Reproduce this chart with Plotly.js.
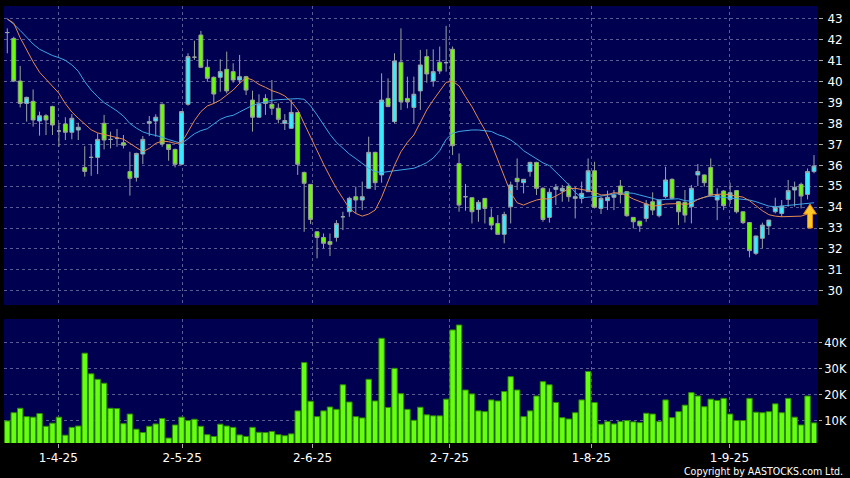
<!DOCTYPE html>
<html><head><meta charset="utf-8">
<script src="https://cdn.plot.ly/plotly-3.0.1.min.js"></script>
<style>html,body{margin:0;padding:0;background:#000;}#chart{width:850px;height:478px;}</style>
</head><body><div id="chart"></div>
<script>
const dates = [
"20-3-25","21-3-25","24-3-25","25-3-25","26-3-25","27-3-25","28-3-25","31-3-25",
"1-4-25","2-4-25","3-4-25","7-4-25","8-4-25","9-4-25","10-4-25","11-4-25","14-4-25","15-4-25","16-4-25","17-4-25",
"22-4-25","23-4-25","24-4-25","25-4-25","28-4-25","29-4-25","30-4-25",
"2-5-25","6-5-25","7-5-25","8-5-25","9-5-25","12-5-25","13-5-25","14-5-25","15-5-25","16-5-25",
"19-5-25","20-5-25","21-5-25","22-5-25","23-5-25","26-5-25","27-5-25","28-5-25","29-5-25","30-5-25",
"2-6-25","3-6-25","4-6-25","5-6-25","6-6-25","9-6-25","10-6-25","11-6-25","12-6-25","13-6-25",
"16-6-25","17-6-25","18-6-25","19-6-25","20-6-25","23-6-25","24-6-25","25-6-25","26-6-25","27-6-25","30-6-25",
"2-7-25","3-7-25","4-7-25","7-7-25","8-7-25","9-7-25","10-7-25","11-7-25","14-7-25","15-7-25","16-7-25","17-7-25","18-7-25",
"21-7-25","22-7-25","23-7-25","24-7-25","25-7-25","28-7-25","29-7-25","30-7-25","31-7-25",
"1-8-25","4-8-25","5-8-25","6-8-25","7-8-25","8-8-25","11-8-25","12-8-25","13-8-25","14-8-25","15-8-25",
"18-8-25","19-8-25","20-8-25","21-8-25","22-8-25","25-8-25","26-8-25","27-8-25","28-8-25","29-8-25",
"1-9-25","2-9-25","3-9-25","4-9-25","5-9-25","8-9-25","9-9-25","10-9-25","11-9-25","12-9-25",
"15-9-25","16-9-25","17-9-25","18-9-25","19-9-25"];

const openP = [
42.35,42.07,40.03,38.96,39.06,38.12,38.37,38.81,37.64,37.98,
37.58,37.69,35.90,36.38,36.38,38.01,37.24,37.29,37.08,35.70,
35.42,36.54,38.01,38.12,38.92,37.00,36.76,36.05,38.92,41.17,
42.23,40.69,40.21,40.21,40.59,40.48,40.08,40.24,39.12,38.30,
39.20,38.92,38.73,38.01,37.77,38.53,35.66,35.09,32.82,32.55,
32.35,32.55,33.54,33.78,34.50,34.34,34.90,36.62,35.54,39.20,
38.09,40.93,39.20,38.77,39.56,41.20,40.03,40.93,40.91,41.55,
36.09,34.50,34.45,33.89,34.42,33.51,33.22,32.70,34.02,35.38,
35.17,35.70,36.14,34.90,33.51,34.85,34.77,35.01,34.42,34.42,
34.74,35.74,33.94,34.31,34.47,35.01,34.74,33.51,33.33,33.46,
34.26,33.59,34.50,35.33,34.26,34.23,34.02,35.54,35.54,35.90,
34.34,34.77,34.37,34.79,33.78,33.26,31.79,32.51,33.10,33.78,
33.70,34.37,34.82,35.09,34.61,35.70];

const highP = [
42.55,42.15,40.75,39.28,39.63,38.57,38.45,38.85,38.01,38.30,
38.45,38.04,36.92,37.02,37.53,38.41,37.61,37.74,37.45,36.65,
36.60,37.40,38.36,38.44,38.95,37.00,36.80,38.60,41.36,41.96,
42.43,41.07,40.25,41.07,41.44,40.88,41.28,40.28,39.57,39.40,
39.40,40.08,38.96,38.45,39.12,38.55,35.70,35.10,32.85,32.74,
32.74,33.38,33.78,34.50,34.98,35.22,37.37,36.65,40.40,40.16,
41.36,42.55,40.24,40.24,41.52,41.55,41.55,41.68,42.67,41.68,
36.57,35.11,34.45,34.34,34.42,33.94,33.62,33.78,35.22,36.33,
35.35,36.17,36.17,34.95,34.90,35.11,35.06,35.14,34.98,35.22,
36.33,36.17,34.50,34.79,34.82,35.30,34.76,33.52,33.34,34.34,
34.71,34.36,35.93,35.38,34.28,34.82,35.06,36.06,35.56,36.33,
34.90,34.82,35.17,34.82,33.79,33.27,32.63,33.26,33.39,34.45,
34.34,35.30,35.22,35.17,35.85,36.49];

const lowP = [
41.36,39.98,38.77,38.09,37.85,37.42,37.45,37.45,36.89,37.21,
37.24,37.21,35.46,35.50,35.58,36.76,36.81,36.89,36.81,34.55,
35.22,36.06,37.40,37.37,36.89,36.22,35.90,36.00,38.85,41.04,
40.65,40.00,38.96,39.52,39.44,39.95,39.92,39.36,37.61,38.28,
38.41,38.41,38.01,37.69,37.75,35.54,32.82,33.19,31.55,32.03,
31.66,32.35,32.90,33.54,33.70,33.86,34.88,34.82,35.17,38.78,
38.01,38.65,38.73,38.01,38.65,39.95,39.76,40.37,40.48,36.49,
33.78,33.83,33.22,33.30,33.22,32.90,32.70,32.27,33.22,34.82,
34.66,35.46,34.58,33.30,33.26,34.10,34.26,34.26,33.46,34.18,
34.72,33.94,33.67,33.86,33.86,34.18,33.54,32.98,32.82,33.30,
33.62,33.51,34.42,34.37,33.14,33.26,33.22,35.01,34.98,34.50,
33.38,33.86,34.15,33.70,33.19,31.60,31.71,32.03,32.67,33.70,
33.54,34.02,34.02,33.94,34.37,35.62];

const closeP = [
42.35,40.03,38.96,39.25,38.17,38.37,38.17,37.93,37.64,37.58,
38.25,37.82,35.71,36.38,37.24,37.21,37.24,37.29,36.96,35.38,
36.57,37.24,38.09,38.30,37.02,36.76,36.05,38.57,41.20,41.17,
40.69,40.16,39.41,40.48,39.56,40.08,40.24,39.60,38.30,38.93,
38.96,38.73,38.20,38.14,38.53,36.05,35.14,33.41,32.55,32.27,
32.22,33.22,33.54,34.42,34.34,34.50,36.62,35.17,39.12,38.81,
40.99,39.04,39.04,39.40,40.80,40.37,40.48,40.51,40.91,36.94,
34.10,34.50,33.78,34.23,33.94,33.14,32.70,33.65,35.06,35.22,
35.33,36.14,34.90,33.41,34.71,34.95,34.90,34.50,34.50,34.66,
35.74,33.99,34.42,34.47,34.58,34.61,33.59,33.30,33.11,34.15,
33.86,34.34,35.30,34.42,33.78,33.62,34.90,35.70,35.17,34.58,
34.58,34.07,34.69,33.78,33.26,31.92,32.62,33.14,33.38,33.99,
34.05,34.79,34.95,34.53,35.70,35.97];

const volume = [
9960,13100,14800,11600,11400,12800,7900,9100,11400,4500,
7500,8000,35900,28000,25900,24400,14800,14700,8900,12600,
6800,5500,7900,8800,10900,3400,8400,11400,10100,10600,
7900,4700,4000,8700,8000,7500,4600,4000,7500,5600,
5500,5900,4700,4300,5000,13800,32300,17500,11600,13800,
15300,14400,23800,17200,11600,11100,25900,17600,41600,15100,
30100,20400,14400,10200,15200,12300,11900,11900,18300,44800,
46700,21800,20300,13800,13500,18000,17600,21200,26900,21800,
11600,13800,19500,25000,23800,17000,11200,10700,13100,18000,
28900,17000,8700,9700,8800,9700,10100,9600,9300,12900,
12600,9700,18000,11200,13500,16000,20800,19500,15400,18300,
17800,18600,12600,10100,10100,18600,13300,13100,13500,16500,
13100,18600,11400,8400,19500,9200];

const ma10 = [
43.0,42.8,42.1,41.5,40.95,40.45,40.1,39.8,39.45,38.95,
38.55,38.25,37.95,37.7,37.55,37.48,37.4,37.33,37.25,37.05,
36.87,36.65,36.81,37.05,37.16,37.13,37.05,37.08,37.6,38.14,
38.57,38.84,38.96,39.12,39.36,39.6,39.92,40.19,40.08,39.87,
39.73,39.57,39.47,39.32,39.04,38.65,38.0,37.34,36.7,36.06,
35.46,34.9,34.42,33.94,33.7,33.57,33.67,33.86,34.47,35.22,
36.0,36.65,37.1,37.45,38.06,38.65,39.12,39.57,39.97,40.02,
39.8,39.28,38.8,38.23,37.69,37.05,36.25,35.46,34.69,34.21,
34.1,34.23,34.34,34.4,34.39,34.53,34.71,34.88,34.9,34.85,
34.79,34.71,34.58,34.6,34.69,34.67,34.55,34.39,34.26,34.15,
34.05,34.08,34.15,34.15,34.17,34.12,34.18,34.37,34.48,34.58,
34.61,34.63,34.58,34.53,34.48,34.31,34.07,33.83,33.64,33.57,
33.54,33.54,33.54,33.57,33.67,33.78];

const ma20 = [
43.0,42.75,42.45,42.1,41.8,41.55,41.38,41.25,41.15,41.02,
40.8,40.5,40.0,39.6,39.28,39.0,38.8,38.6,38.35,38.0,
37.78,37.6,37.5,37.43,37.35,37.23,37.13,37.05,37.27,37.51,
37.66,37.75,37.98,38.2,38.33,38.39,38.55,38.71,38.87,38.96,
39.03,39.11,39.14,39.16,39.19,39.19,39.16,38.84,38.41,37.93,
37.48,37.1,36.8,36.54,36.32,36.09,35.86,35.7,35.65,35.7,
35.74,35.78,35.83,35.86,35.98,36.13,36.35,36.7,37.24,37.53,
37.62,37.67,37.69,37.69,37.67,37.62,37.47,37.37,37.21,36.99,
36.7,36.51,36.3,36.12,35.98,35.7,35.38,35.06,34.71,34.45,
34.47,34.5,34.53,34.58,34.63,34.66,34.69,34.66,34.58,34.5,
34.4,34.34,34.37,34.4,34.4,34.31,34.29,34.37,34.47,34.53,
34.5,34.48,34.45,34.42,34.39,34.34,34.26,34.15,34.05,34.02,
34.05,34.1,34.1,34.13,34.18,34.21];

const tickLabels = ["1-4-25","2-5-25","2-6-25","2-7-25","1-8-25","1-9-25"];
const tickPos = [7.9, 27.1, 47.3, 68.5, 90.5, 111.9];
const priceTicks = [30,31,32,33,34,35,36,37,38,39,40,41,42,43];
const volTicks = [10000,20000,30000,40000];
const volTickLabels = ["10K","20K","30K","40K"];

const FONT = "DejaVu Sans, Verdana, sans-serif";
const gridCol = "#5c5c94";

const traces = [
  {type:"candlestick", x:dates, open:openP, high:highP, low:lowP, close:closeP,
   xaxis:"x", yaxis:"y", whiskerwidth:0, hoverinfo:"skip", showlegend:false,
   increasing:{line:{color:"#9aa4a8", width:1}, fillcolor:"#33eeff"},
   decreasing:{line:{color:"#9aa494", width:1}, fillcolor:"#66ff00"}},
  {type:"scatter", mode:"lines", x:dates, y:ma20, xaxis:"x", yaxis:"y",
   line:{color:"#3fa6e6", width:1}, hoverinfo:"skip", showlegend:false},
  {type:"scatter", mode:"lines", x:dates, y:ma10, xaxis:"x", yaxis:"y",
   line:{color:"#e58a50", width:1}, hoverinfo:"skip", showlegend:false},
  {type:"bar", x:dates, y:volume, xaxis:"x", yaxis:"y2",
   marker:{color:"#66ff11", line:{color:"#2e8a00", width:1}}, hoverinfo:"skip", showlegend:false}
];

const axisFont = {family:FONT, size:12, color:"#ffffff"};
const layout = {
  width:850, height:478,
  paper_bgcolor:"#000000", plot_bgcolor:"#000050",
  margin:{l:4, r:32, t:6, b:35},
  showlegend:false, bargap:0.16, boxgap:0.14,
  font:{family:FONT, color:"#ffffff"},
  xaxis:{type:"category", range:[-0.51, 125.62], anchor:"y2",
    tickmode:"array", tickvals:tickPos, ticktext:tickLabels,
    ticks:"outside", ticklen:4, tickcolor:"#aaaaaa", tickfont:axisFont,
    showgrid:true, gridcolor:gridCol, griddash:"3px,3px", gridwidth:1,
    zeroline:false, showline:false, rangeslider:{visible:false}, fixedrange:true},
  yaxis:{domain:[0.3158,1], side:"right", range:[29.32,43.62], anchor:"x",
    tickmode:"array", tickvals:priceTicks, ticks:"outside", ticklen:4, tickcolor:"#aaaaaa",
    tickfont:axisFont, ticklabelstandoff:2,
    showgrid:true, gridcolor:gridCol, griddash:"3px,3px", gridwidth:1,
    zeroline:false, showline:false, fixedrange:true},
  yaxis2:{domain:[0,0.2838], side:"right", range:[1500,49000], anchor:"x",
    tickmode:"array", tickvals:volTicks, ticktext:volTickLabels, ticks:"outside", ticklen:3, tickcolor:"#aaaaaa",
    tickfont:{family:FONT, size:11.5, color:"#ffffff"}, ticklabelstandoff:0,
    showgrid:true, gridcolor:gridCol, griddash:"3px,3px", gridwidth:1,
    zeroline:false, showline:false, fixedrange:true},
  annotations:[
    {text:"Copyright by AASTOCKS.com Ltd.", xref:"paper", yref:"paper", x:1.0332, y:-0.064,
     xanchor:"right", yanchor:"middle", showarrow:false,
     font:{family:"DejaVu Sans Condensed, DejaVu Sans, sans-serif", size:10.5, color:"#ffffff"}}
  ],
  shapes:[
    {type:"path", xref:"paper", yref:"paper",
     path:"M 0.99017,0.54691 L 0.99816,0.52403 L 0.99324,0.52403 L 0.99324,0.49199 L 0.98710,0.49199 L 0.98710,0.52403 L 0.98219,0.52403 Z",
     fillcolor:"#ffc629", line:{color:"#d98a10", width:1}}
  ]
};

Plotly.newPlot("chart", traces, layout, {staticPlot:true, displayModeBar:false});
</script>
</body></html>
